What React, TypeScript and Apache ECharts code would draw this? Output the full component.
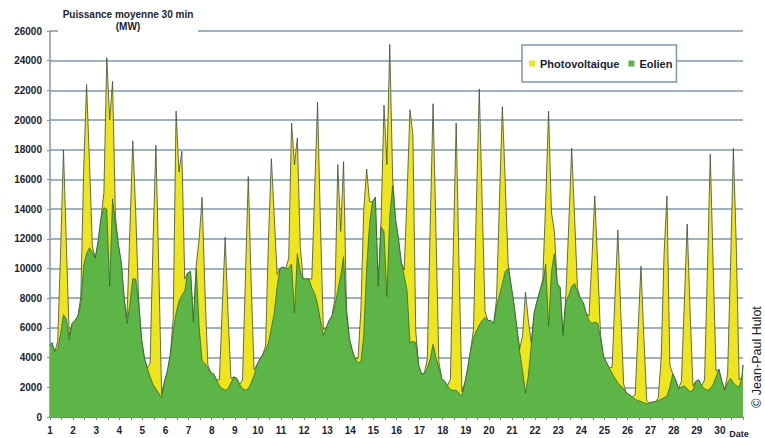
import React, { useEffect, useRef } from "react";
import * as echarts from "echarts";

// Hours of the day at which each daily row is sampled
const SAMPLE_HOURS = [2, 5, 8, 11, 14, 17, 20, 23];
const DAY_LABELS = Array.from({ length: 30 }, (_, i) => String(i + 1));
const Y_TICKS = [0, 2000, 4000, 6000, 8000, 10000, 12000, 14000, 16000, 18000, 20000, 22000, 24000, 26000];

// Eolien (wind) in MW, one row per day
const EOLIEN_START = 4800;
const EOLIEN_END = 3500;
const EOLIEN: number[][] = [
  [5000, 4400, 4600, 5600, 6900, 6600, 5200, 6300],
  [6500, 6800, 7600, 10200, 11000, 11400, 11100, 10700],
  [11800, 13400, 14100, 14000, 8800, 14700, 13000, 11600],
  [10400, 8000, 6300, 7600, 9300, 9300, 7700, 5300],
  [4000, 3300, 2700, 2200, 1900, 1600, 1300, 2400],
  [3100, 4200, 5800, 7000, 7800, 8200, 8500, 9700],
  [9800, 6400, 10000, 6000, 3800, 3600, 3300, 3000],
  [2900, 2500, 2100, 1900, 1800, 1900, 2300, 2700],
  [2600, 2200, 1900, 1800, 1900, 2300, 2800, 3500],
  [3900, 4200, 4500, 5000, 6000, 7000, 8800, 10000],
  [10100, 10000, 10000, 10300, 7000, 11000, 9800, 9300],
  [9300, 9300, 8700, 8300, 7600, 6500, 5500, 6000],
  [6500, 6800, 7500, 8500, 9500, 10800, 7000, 5300],
  [4500, 3900, 3650, 3700, 5500, 10000, 13000, 14500],
  [14800, 8800, 12800, 12500, 8100, 13500, 15600, 13300],
  [12000, 10400, 9500, 8500, 5000, 5100, 5000, 3500],
  [2900, 2960, 3300, 3900, 4900, 4000, 3300, 2600],
  [2400, 2100, 1850, 1800, 1800, 1600, 1400, 2300],
  [3300, 4500, 5300, 5800, 6200, 6500, 6700, 6500],
  [6500, 6300, 7500, 8200, 9000, 9800, 10000, 8900],
  [7600, 6000, 4400, 3100, 1600, 2800, 4800, 7000],
  [7800, 8500, 9000, 10300, 6100, 9800, 11000, 9000],
  [8700, 5500, 7800, 8200, 8800, 9000, 8400, 8000],
  [7700, 7000, 6500, 6300, 6400, 6300, 5300, 4100],
  [3700, 3300, 2950, 2600, 2300, 2100, 1900, 1600],
  [1500, 1350, 1200, 1100, 1050, 950, 900, 950],
  [1000, 1030, 1100, 1200, 1300, 1400, 2000, 2900],
  [2500, 1900, 2000, 2100, 1900, 1700, 1800, 2400],
  [2500, 2100, 1900, 1800, 1900, 2200, 2700, 3200],
  [2400, 1800, 2300, 2600, 2300, 2100, 2000, 2700],
];

// Photovoltaique in MW, one row per day
const PV: number[][] = [
  [0, 0, 500, 5500, 11100, 5000, 300, 0],
  [0, 0, 500, 6500, 11400, 5800, 400, 0],
  [0, 0, 1000, 10200, 11200, 7900, 500, 0],
  [0, 0, 400, 5000, 9300, 4600, 300, 0],
  [0, 0, 900, 9500, 16400, 8500, 200, 0],
  [0, 0, 800, 13600, 8700, 9700, 800, 0],
  [0, 0, 300, 6000, 11000, 4900, 200, 0],
  [0, 0, 400, 5500, 10300, 5000, 300, 0],
  [0, 0, 600, 7500, 14300, 6800, 400, 0],
  [0, 0, 300, 7000, 11400, 6500, 800, 0],
  [0, 0, 700, 9500, 10000, 7800, 1700, 0],
  [0, 0, 600, 7000, 13600, 6500, 400, 0],
  [0, 0, 500, 8500, 3000, 6400, 400, 0],
  [0, 0, 300, 3500, 8500, 6700, 1500, 0],
  [0, 0, 500, 8500, 8900, 11600, 500, 0],
  [0, 0, 400, 6500, 15700, 13900, 800, 0],
  [0, 0, 600, 9000, 16200, 8500, 400, 0],
  [0, 0, 700, 9500, 18000, 8500, 300, 0],
  [0, 0, 600, 8500, 15900, 8000, 400, 0],
  [0, 0, 500, 6500, 11900, 6000, 300, 0],
  [0, 0, 200, 2400, 6800, 3700, 200, 0],
  [0, 0, 300, 4200, 14500, 4000, 1500, 0],
  [0, 0, 400, 4800, 9300, 4500, 300, 0],
  [0, 0, 300, 4300, 8500, 4000, 200, 0],
  [0, 0, 400, 5500, 10300, 5000, 300, 0],
  [0, 0, 300, 4800, 9100, 4400, 200, 0],
  [0, 0, 200, 2800, 9700, 13500, 1500, 0],
  [0, 0, 400, 5500, 11100, 5500, 300, 0],
  [0, 0, 600, 8000, 15800, 8000, 400, 0],
  [0, 0, 600, 7500, 15800, 9500, 500, 0],
];

const FONT = "'Liberation Sans', Arial, sans-serif";
const TEXT_COLOR = "#1c2333";

export default function App() {
  const ref = useRef<HTMLDivElement>(null);

  useEffect(() => {
    if (!ref.current) return;
    const chart = echarts.init(ref.current, undefined, { renderer: "svg" });

    // Eolien drawn from 0; Photovoltaique drawn on top of Eolien (cumulative)
    const eolienData: number[][] = [[1, EOLIEN_START]];
    const totalData: number[][] = [[1, EOLIEN_START]];
    EOLIEN.forEach((row, d) => {
      row.forEach((v, k) => {
        const x = 1 + d + SAMPLE_HOURS[k] / 24;
        eolienData.push([x, v]);
        totalData.push([x, v + PV[d][k]]);
      });
    });
    eolienData.push([31, EOLIEN_END]);
    totalData.push([31, EOLIEN_END]);

    chart.setOption({
      animation: false,
      backgroundColor: "#ffffff",
      grid: { left: 50, right: 22, top: 31, bottom: 21, containLabel: false },
      legend: {
        data: ["Photovoltaique", "Eolien"],
        left: 522,
        top: 45,
        icon: "rect",
        itemWidth: 6,
        itemHeight: 6,
        itemGap: 9,
        backgroundColor: "#ffffff",
        borderColor: "#7d97ad",
        borderWidth: 1.5,
        padding: [13, 4, 13, 7],
        textStyle: { fontSize: 11, fontWeight: "bold", color: TEXT_COLOR, fontFamily: FONT },
      },
      xAxis: {
        type: "value",
        min: 1,
        max: 31,
        interval: 1,
        axisLine: { show: true, lineStyle: { color: "#5d7890", width: 1.5 } },
        axisTick: { show: true, length: 3, lineStyle: { color: "#6f8aa0" } },
        minorTick: { show: true, splitNumber: 2, length: 3, lineStyle: { color: "#6f8aa0" } },
        splitLine: { show: false },
        axisLabel: {
          margin: 8,
          fontSize: 10,
          fontWeight: "bold",
          color: TEXT_COLOR,
          fontFamily: FONT,
          formatter: (v: number) => (v >= 1 && v <= 30 ? DAY_LABELS[Math.round(v) - 1] : ""),
        },
      },
      yAxis: {
        type: "value",
        min: Y_TICKS[0],
        max: Y_TICKS[Y_TICKS.length - 1],
        interval: 2000,
        axisLine: { show: true, lineStyle: { color: "#7d97ad", width: 1.5 } },
        axisTick: { show: true, length: 3, lineStyle: { color: "#7d97ad" } },
        splitLine: { show: true, lineStyle: { color: "#7f99ae", width: 1.6 } },
        axisLabel: {
          margin: 8,
          fontSize: 10,
          fontWeight: "bold",
          color: TEXT_COLOR,
          fontFamily: FONT,
          formatter: (v: number) => String(v),
        },
      },
      series: [
        {
          name: "Photovoltaique",
          type: "line",
          data: totalData,
          symbol: "none",
          z: 2,
          lineStyle: { color: "#3f4a35", width: 0.8 },
          itemStyle: { color: "#efe51f" },
          areaStyle: { color: "#efe51f", opacity: 1 },
        },
        {
          name: "Eolien",
          type: "line",
          data: eolienData,
          symbol: "none",
          z: 3,
          lineStyle: { color: "#2f6a2c", width: 0.8 },
          itemStyle: { color: "#5db547" },
          areaStyle: { color: "#5db547", opacity: 1 },
        },
      ],
      graphic: [
        {
          type: "rect",
          z: 100,
          shape: { x: 58, y: 4, width: 140, height: 31 },
          style: { fill: "#ffffff" },
        },
        {
          type: "text",
          z: 101,
          x: 128,
          y: 14,
          style: {
            text: "Puissance moyenne 30 min",
            fontSize: 10,
            fontWeight: "bold",
            fontFamily: FONT,
            fill: TEXT_COLOR,
            align: "center",
            verticalAlign: "middle",
          },
        },
        {
          type: "text",
          z: 101,
          x: 128,
          y: 26,
          style: {
            text: "(MW)",
            fontSize: 10,
            fontWeight: "bold",
            fontFamily: FONT,
            fill: TEXT_COLOR,
            align: "center",
            verticalAlign: "middle",
          },
        },
        {
          type: "text",
          z: 101,
          x: 739,
          y: 434,
          style: {
            text: "Date",
            fontSize: 9,
            fontWeight: "bold",
            fontFamily: FONT,
            fill: TEXT_COLOR,
            align: "center",
            verticalAlign: "middle",
          },
        },
        {
          type: "text",
          z: 101,
          x: 757,
          y: 357,
          rotation: Math.PI / 2,
          style: {
            text: "© Jean-Paul Hulot",
            fontSize: 12.5,
            fontFamily: FONT,
            fill: "#222222",
            align: "center",
            verticalAlign: "middle",
          },
        },
      ],
    });

    return () => chart.dispose();
  }, []);

  return (
    <div
      ref={ref}
      style={{ position: "fixed", left: 0, top: 0, width: 765, height: 438, background: "#fff" }}
    />
  );
}
